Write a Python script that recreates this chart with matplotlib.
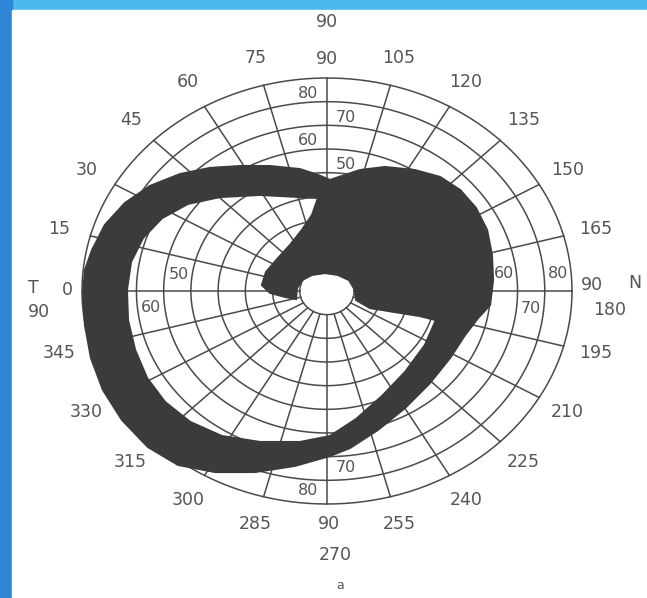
import numpy as np
import matplotlib
matplotlib.use("Agg")
import matplotlib.pyplot as plt
from matplotlib.patches import Rectangle, PathPatch
from matplotlib.path import Path

# ---------------- data (degrees of visual field) ----------------
ring_ecc = [10, 20, 30, 40, 50, 60, 70, 80, 90]
meridians = [0, 15, 30, 45, 60, 75, 90, 105, 120, 135, 150, 165,
             180, 195, 210, 225, 240, 255, 270, 285, 300, 315, 330, 345]
meridian_text = ["0", "15", "30", "45", "60", "75", "90", "105", "120", "135", "150", "165",
                 "180", "195", "210", "225", "240", "255", "270", "285", "300", "315", "330", "345"]

# scotoma outer boundary (x = horizontal deg, y = vertical deg)
scot_outer_x = [-89.6, -88.9, -86.7, -82.3, -75.3, -65.8, -54.7, -41.1, -26.5, -11.8, 1.1, 8.5,
                18.7, 28.7, 37.8, 45.2, 50.7, 55.5, 59.9, 61.0, 60.6, 58.8, 54.7, 48.9, 41.5,
                32.3, 21.3, 12.1, 5.5, 1.1, -3.3, -9.9, -20.9, -32.0, -43.0, -54.0, -65.0,
                -74.2, -81.6, -86.3, -88.9]
scot_outer_y = [0.0, -14.4, -28.3, -41.8, -54.5, -65.9, -73.5, -76.5, -76.5, -73.9, -69.7, -66.3,
                -58.7, -49.4, -38.9, -28.3, -18.6, -11.4, -5.9, 4.6, 15.2, 25.8, 35.1, 42.7, 48.2,
                51.1, 52.4, 51.1, 48.6, 46.9, 49.0, 51.5, 52.8, 52.8, 52.0, 49.4, 44.4,
                37.2, 27.9, 17.3, 8.9]
# seeing area inside the scotoma (white crescent + central island)
seeing_x = [-3.3, -5.5, -9.2, -13.6, -18.0, -22.4, -23.9, -20.9, -15.4, -11.4, -11.0, -9.2,
            -5.5, -0.7, 4.0, 8.1, 10.3, 10.7, 15.8, 25.0, 34.2, 40.0, 36.0, 28.7, 20.2, 10.7,
            1.1, -9.9, -24.6, -38.6, -50.3, -59.5, -66.1, -70.5, -73.1, -73.5, -72.0, -67.6,
            -60.6, -51.1, -39.3, -24.6, -9.9]
seeing_y = [39.3, 32.1, 25.8, 19.4, 13.9, 8.0, 2.5, -0.8, -2.5, -3.4, 1.3, 4.6,
            6.8, 7.6, 6.8, 4.6, 0.4, -3.8, -7.2, -8.9, -10.6, -12.3, -22.8, -34.2, -44.4, -54.1,
            -61.3, -63.8, -63.8, -61.3, -55.3, -46.9, -36.8, -24.9, -12.3, 0.4, 12.3, 22.4,
            30.8, 36.8, 39.7, 40.6, 39.7]

# eccentricity labels along the axes: (text, ring)
top_axis = [("80", 80, -1), ("70", 70, 1), ("60", 60, -1), ("50", 50, 1)]
right_axis = [("60", 60, 1), ("80", 80, 1), ("70", 70, -1)]
bottom_axis = [("70", 70, 1), ("80", 80, -1)]
left_axis = [("50", 50, 1), ("60", 60, -1)]

# ---------------- figure ----------------
W, H = 647, 598
fig = plt.figure(figsize=(W / 100, H / 100), dpi=100)
fig.patches.append(Rectangle((0, 0), 1, 1, transform=fig.transFigure, color="#4bb8ee", zorder=-10))
fig.patches.append(Rectangle((0, 0), 12 / W, 1, transform=fig.transFigure, color="#2f86d6", zorder=-9))
fig.patches.append(Rectangle((12 / W, 0), 1 - 12 / W, (H - 10) / H, transform=fig.transFigure,
                             color="white", zorder=-8))

ax = fig.add_axes([0, 0, 1, 1])
ax.set_facecolor("none")
cx, cy = 327, 291          # pixel centre of the chart
sx, sy = 245 / 90, 213 / 90  # pixels per degree
ax.set_xlim(-cx / sx, (W - cx) / sx)
ax.set_ylim(-(H - cy) / sy, cy / sy)
ax.axis("off")

grid_c = "#4a4a4a"
t = np.linspace(0, 2 * np.pi, 500)
for r in ring_ecc:
    ax.plot(r * np.cos(t), r * np.sin(t), color=grid_c, lw=1.1, zorder=1)
for m in meridians:
    phi = np.radians(180 - m)
    r0 = 10
    r1 = 90
    ax.plot([r0 * np.cos(phi), r1 * np.cos(phi)], [r0 * np.sin(phi), r1 * np.sin(phi)],
            color=grid_c, lw=1.1, zorder=1)

# scotoma (dark) with the seeing area as a hole
ov = np.column_stack([scot_outer_x, scot_outer_y])
hv = np.column_stack([seeing_x, seeing_y])
verts = np.vstack([ov, ov[:1], hv, hv[:1]])
codes = ([Path.MOVETO] + [Path.LINETO] * (len(ov) - 1) + [Path.CLOSEPOLY] +
         [Path.MOVETO] + [Path.LINETO] * (len(hv) - 1) + [Path.CLOSEPOLY])
ax.add_patch(PathPatch(Path(verts, codes), facecolor="#3b3b3b", edgecolor="#3b3b3b",
                       lw=1.5, zorder=2))

# meridian labels
tc = "#555555"
R_lab = 102
for m, s in zip(meridians, meridian_text):
    if m in (0, 90, 180, 270):
        continue
    phi = np.radians(180 - m)
    ax.text(R_lab * np.cos(phi), R_lab * np.sin(phi), s, ha="center", va="center",
            fontsize=12.5, color=tc, zorder=3)

# axis ends
ax.text(0, 113.6, "90", ha="center", va="center", fontsize=12.5, color=tc)
ax.text(0, 98, "90", ha="center", va="center", fontsize=12.5, color=tc)
ax.text(-95.5, 0.5, "0", ha="center", va="center", fontsize=12.5, color=tc)
ax.text(-108, 1.2, "T", ha="center", va="center", fontsize=12.5, color=tc)
ax.text(-106, -8.9, "90", ha="center", va="center", fontsize=12.5, color=tc)
ax.text(97.4, 2.5, "90", ha="center", va="center", fontsize=12.5, color=tc)
ax.text(113.2, 3.3, "N", ha="center", va="center", fontsize=12.5, color=tc)
ax.text(104, -8.0, "180", ha="center", va="center", fontsize=12.5, color=tc)
ax.text(0.8, -98.4, "90", ha="center", va="center", fontsize=12.5, color=tc)
ax.text(2.9, -111.5, "270", ha="center", va="center", fontsize=12.5, color=tc)
ax.text(4.8, -124.6, "a", ha="center", va="center", fontsize=9, color=tc)

# eccentricity labels along the axes
fs2 = 11.5
for s, r, side in top_axis:
    ax.text(7 * side, r + 3.5, s, ha="center", va="center", fontsize=fs2, color=tc, zorder=3)
for s, r, side in right_axis:
    ax.text(r + 5, 7.5 * side, s, ha="center", va="center", fontsize=fs2, color=tc, zorder=3)
for s, r, side in bottom_axis:
    ax.text(7 * side, -(r + 4.5), s, ha="center", va="center", fontsize=fs2, color=tc, zorder=3)
for s, r, side in left_axis:
    ax.text(-(r + 4.5), 7 * side, s, ha="center", va="center", fontsize=fs2, color=tc, zorder=3)

fig.savefig("out.png", dpi=100)
